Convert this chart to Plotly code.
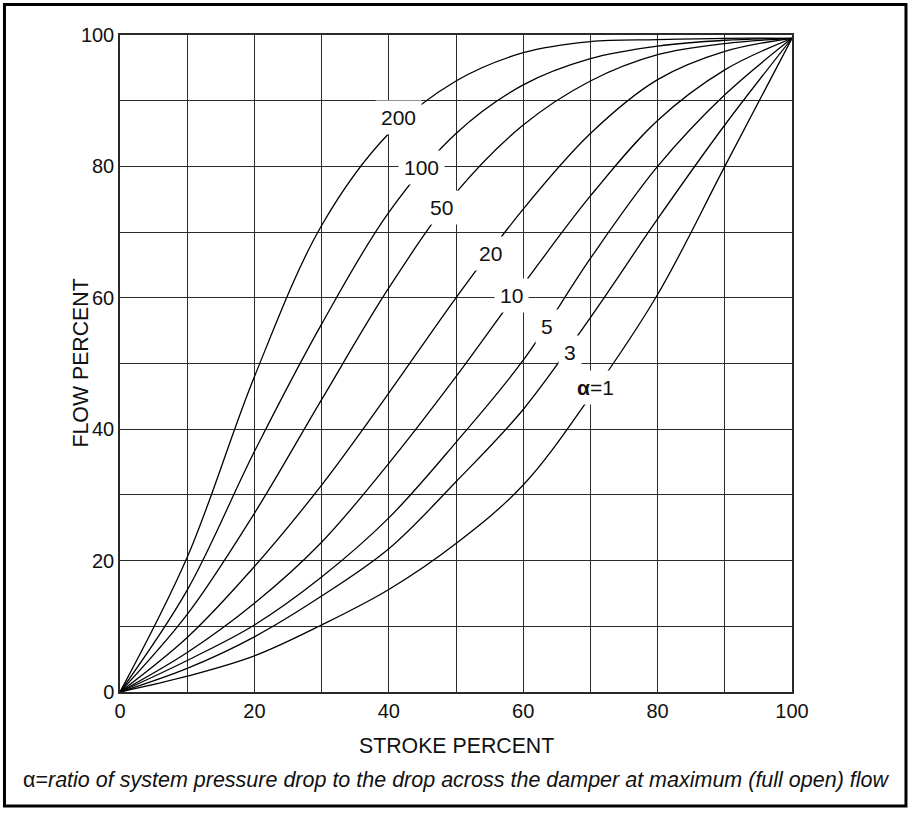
import plotly.graph_objects as go

stroke = [0, 10, 20, 30, 40, 50, 60, 70, 80, 90, 100]

flow_a1   = [0, 2.4, 5.5, 10.2, 15.6, 22.6, 31.5, 45.0, 60.5, 80.0, 99.5]
flow_a3   = [0, 3.6, 8.4, 14.6, 21.8, 32.0, 43.0, 57.0, 72.0, 86.3, 99.5]
flow_a5   = [0, 4.8, 10.2, 17.5, 26.5, 38.0, 50.5, 66.0, 80.0, 90.9, 99.5]
flow_a10  = [0, 6.0, 13.5, 22.8, 34.8, 48.0, 62.0, 75.5, 87.0, 94.7, 99.5]
flow_a20  = [0, 8.3, 19.1, 31.5, 45.5, 60.0, 73.5, 85.0, 93.2, 97.5, 99.5]
flow_a50  = [0, 11.8, 27.2, 44.5, 61.5, 76.0, 86.3, 93.0, 97.0, 98.7, 99.5]
flow_a100 = [0, 15.5, 36.6, 56.0, 73.0, 85.0, 92.4, 96.4, 98.3, 99.2, 99.5]
flow_a200 = [0, 20.5, 48.0, 71.0, 85.0, 93.0, 97.3, 99.0, 99.3, 99.5, 99.5]

series = [flow_a1, flow_a3, flow_a5, flow_a10, flow_a20, flow_a50, flow_a100, flow_a200]

curve_labels = ["<b>α</b>=1", "3", "5", "10", "20", "50", "100", "200"]
label_x = [70.8, 67.0, 63.5, 58.2, 55.2, 47.8, 44.8, 41.4]
label_y = [46.3, 51.6, 55.7, 60.3, 66.8, 73.8, 79.9, 87.4]

tick_vals = [0, 20, 40, 60, 80, 100]
tick_text = ["0", "20", "40", "60", "80", "100"]

x_title = "STROKE PERCENT"
y_title = "FLOW PERCENT"
caption = "α=<i>ratio of system pressure drop to the drop across the damper at maximum (full open) flow</i>"

FONT = "Liberation Sans, Arial, Helvetica, sans-serif"
GRID = "#2a2a2a"
TXT = "#111"

fig = go.Figure()
for ys in series:
    fig.add_trace(go.Scatter(
        x=stroke, y=ys, mode="lines", hoverinfo="skip", showlegend=False,
        line=dict(color="black", width=1.3, shape="spline", smoothing=1.0),
    ))

annotations = []
for t, lx, ly in zip(curve_labels, label_x, label_y):
    annotations.append(dict(
        x=lx, y=ly, xref="x", yref="y", text=t, showarrow=False,
        font=dict(family=FONT, size=21, color=TXT),
        bgcolor="white", borderpad=5,
    ))

annotations.append(dict(
    x=0.5, y=-0.082, xref="paper", yref="paper", text=x_title, showarrow=False,
    font=dict(family=FONT, size=21.3, color=TXT), xanchor="center", yanchor="middle",
))
annotations.append(dict(
    x=-0.0595, y=0.5, xref="paper", yref="paper", text=y_title, showarrow=False,
    textangle=-90,
    font=dict(family=FONT, size=21.3, color=TXT), xanchor="center", yanchor="middle",
))
annotations.append(dict(
    x=0.5, y=-0.134, xref="paper", yref="paper", text=caption, showarrow=False,
    font=dict(family=FONT, size=21.5, color=TXT), xanchor="center", yanchor="middle",
))

axis_common = dict(
    range=[0, 100], tickvals=tick_vals, ticktext=tick_text,
    showgrid=True, gridcolor=GRID, gridwidth=1.3,
    minor=dict(dtick=10, tick0=0, showgrid=True, gridcolor=GRID, gridwidth=1.3),
    showline=True, linecolor=GRID, linewidth=1.5, mirror=True,
    ticks="", zeroline=False,
    tickfont=dict(family=FONT, size=20, color=TXT),
    fixedrange=True,
)

fig.update_layout(
    width=911, height=813,
    margin=dict(l=120, r=119, t=35, b=121),
    paper_bgcolor="white", plot_bgcolor="white",
    xaxis=dict(**axis_common),
    yaxis=dict(**axis_common),
    annotations=annotations,
    shapes=[dict(
        type="rect", xref="paper", yref="paper",
        x0=-0.1719, x1=1.1696, y0=-0.1735, y1=1.0464,
        line=dict(color="black", width=3), fillcolor="rgba(0,0,0,0)", layer="below",
    )],
)

fig.write_html("out.html", config={"displayModeBar": False},
               post_script="document.body.style.margin='0';")
